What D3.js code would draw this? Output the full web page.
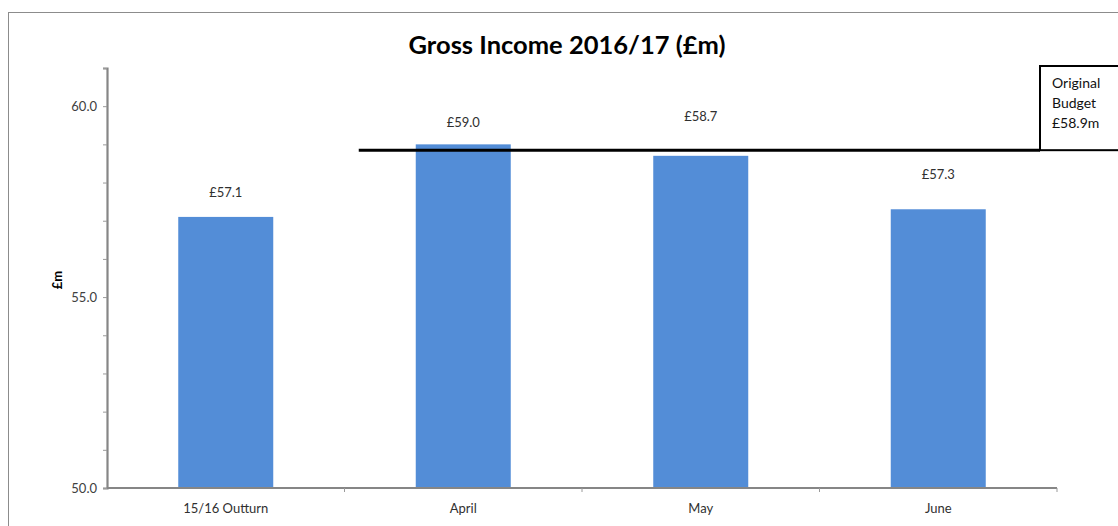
<!DOCTYPE html>
<html>
<head>
<meta charset="utf-8">
<script src="https://cdn.jsdelivr.net/npm/d3@7/dist/d3.min.js"></script>
<style>
  body { margin: 0; background: #fff; }
  svg text { font-family: Lato, "Open Sans", "Liberation Sans", sans-serif; }
</style>
</head>
<body>
<svg id="chart" width="1118" height="526"></svg>
<script>
// Gross income by period (£m)
const categories = ["15/16 Outturn", "April", "May", "June"];
const income = [57.1, 59.0, 58.7, 57.3];
const budget = 58.9;
const budgetLines = ["Original", "Budget", "£58.9m"];
const yTickLabels = [50, 55, 60];

// Vertical nudges for the value labels above each bar
const labelLift = [20, 17, 35, 30];

const svg = d3.select("#chart");
const W = 1118, H = 526;
const m = { left: 107, right: 61, top: 68, bottom: 38 };

// chart frame
svg.append("rect")
  .attr("x", 8.5).attr("y", 12.5)
  .attr("width", W + 20).attr("height", H + 20)
  .attr("fill", "none").attr("stroke", "#8c8c8c").attr("stroke-width", 1);

const x = d3.scaleBand()
  .domain(categories)
  .range([m.left, W - m.right])
  .paddingInner(0.6)
  .paddingOuter(0.3);

const y = d3.scaleLinear()
  .domain([50, 61])
  .range([H - m.bottom, m.top]);

// bars
svg.append("g").selectAll("rect")
  .data(income)
  .join("rect")
  .attr("x", (d, i) => x(categories[i]))
  .attr("y", d => y(d))
  .attr("width", x.bandwidth())
  .attr("height", d => y(50) - y(d))
  .attr("fill", "#538dd7");

// y axis: minor ticks every 1, labels every 5
const yAxis = svg.append("g")
  .attr("transform", `translate(${m.left},0)`)
  .call(d3.axisLeft(y).tickValues(d3.range(50, 62, 1)).tickSize(4)
    .tickFormat(d => yTickLabels.includes(d) ? d3.format(".1f")(d) : ""));
yAxis.select(".domain").attr("stroke", "#868686").attr("stroke-width", 2.2);
yAxis.selectAll(".tick line").attr("stroke", "#9a9a9a").attr("stroke-width", 1);
yAxis.selectAll(".tick text")
  .attr("fill", "#404040").attr("font-size", 13).attr("x", -10);

// x axis with tick marks at category boundaries
const xAxisG = svg.append("g")
  .attr("transform", `translate(0,${y(50)})`);
xAxisG.append("line")
  .attr("x1", m.left).attr("x2", W - m.right)
  .attr("stroke", "#868686").attr("stroke-width", 2.2);
const step = x.step();
const bounds = d3.range(categories.length + 1).map(i => m.left + i * step);
xAxisG.selectAll(".bt")
  .data(bounds.slice(1))
  .join("line")
  .attr("x1", d => d).attr("x2", d => d)
  .attr("y1", 0).attr("y2", 4)
  .attr("stroke", "#9a9a9a");
xAxisG.selectAll(".cat")
  .data(categories)
  .join("text")
  .attr("x", d => x(d) + x.bandwidth() / 2)
  .attr("y", 25)
  .attr("text-anchor", "middle")
  .attr("font-size", 13)
  .attr("fill", "#303030")
  .text(d => d);

// value labels
svg.append("g").selectAll("text")
  .data(income)
  .join("text")
  .attr("x", (d, i) => x(categories[i]) + x.bandwidth() / 2)
  .attr("y", (d, i) => y(d) - labelLift[i])
  .attr("text-anchor", "middle")
  .attr("font-size", 13)
  .attr("fill", "#303030")
  .text(d => "£" + d3.format(".1f")(d));

// original budget line with callout box
const by = y(budget) + 2;
svg.append("line")
  .attr("x1", x("April") - 57).attr("x2", 1040)
  .attr("y1", by).attr("y2", by)
  .attr("stroke", "#000").attr("stroke-width", 3);
svg.append("rect")
  .attr("x", 1040).attr("y", 66)
  .attr("width", 100).attr("height", by - 66)
  .attr("fill", "#fff").attr("stroke", "#000").attr("stroke-width", 2);
svg.append("g").selectAll("text")
  .data(budgetLines)
  .join("text")
  .attr("x", 1052)
  .attr("y", (d, i) => 88 + i * 20)
  .attr("font-size", 14)
  .attr("fill", "#111")
  .text(d => d);

// title
svg.append("text")
  .attr("x", 567).attr("y", 54)
  .attr("text-anchor", "middle")
  .attr("font-size", 25.5)
  .attr("font-weight", "bold")
  .attr("fill", "#000")
  .text("Gross Income 2016/17 (£m)");

// y axis title
svg.append("text")
  .attr("transform", `translate(62,${280}) rotate(-90)`)
  .attr("text-anchor", "middle")
  .attr("font-size", 13)
  .attr("font-weight", "bold")
  .attr("fill", "#000")
  .text("£m");
</script>
</body>
</html>
